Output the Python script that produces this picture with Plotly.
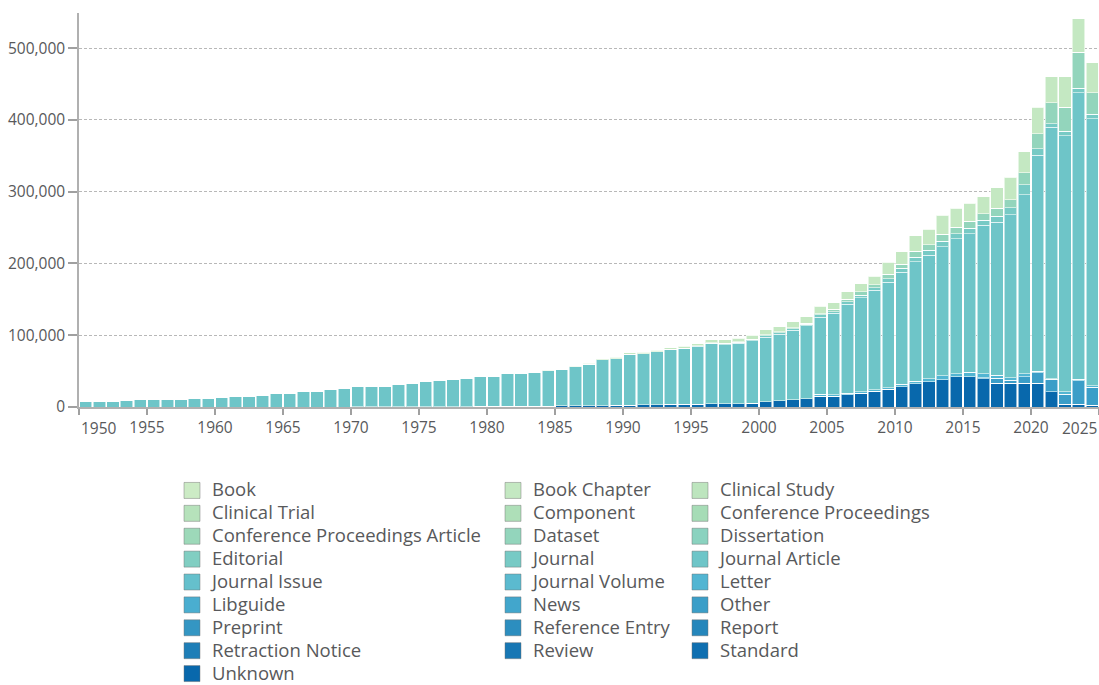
import plotly.graph_objects as go
from plotly.colors import sample_colorscale

# ---------------- data (values in thousands of records) ----------------
years = list(range(1950, 2025))

categories = [
    "Book", "Book Chapter", "Clinical Study", "Clinical Trial", "Component",
    "Conference Proceedings", "Conference Proceedings Article", "Dataset",
    "Dissertation", "Editorial", "Journal", "Journal Article", "Journal Issue",
    "Journal Volume", "Letter", "Libguide", "News", "Other", "Preprint",
    "Reference Entry", "Report", "Retraction Notice", "Review", "Standard",
    "Unknown",
]

journal_article = [
    7.5, 7.5, 8, 9.5, 9.8, 10.2, 10.7, 11, 12.3, 12.5,
    13.5, 14.5, 15.3, 15.5, 18.5, 19.5, 21, 22.3, 24, 25.6,
    27.4, 27.4, 28.3, 30.5, 32.5, 34.5, 35.9, 37.4, 39.3, 41.2,
    42.0, 45.0, 46.0, 46.3, 48.9, 51.0, 54.3, 57.7, 63.5, 65.0,
    71.3, 71.0, 73.6, 76.8, 78.3, 81.0, 83.4, 82.0, 84.4, 87.0,
    90.5, 93.1, 96.9, 101.4, 107.2, 113.3, 124.4, 131.0, 138.2, 147.0,
    156.0, 166.5, 172.3, 179.5, 188.2, 193.2, 206.5, 212.9, 227.5, 249.6,
    301.0, 350.5, 356.5, 399.5, 372.5,
]

unknown = [0] * 20 + [
    0.5, 0.5, 0.5, 0.5, 0.5, 0.5, 0.6, 0.6, 0.7, 0.8,
    1.0, 1.0, 1.0, 1.2, 1.3, 1.5, 1.5, 1.8, 2.0, 2.2,
    2.5, 3.0, 3.2, 3.5, 3.8, 4.0, 4.5, 4.5, 4.6, 5.0,
    7.0, 8.5, 10, 11.6, 15, 15, 17, 19.5, 22.3, 25,
    28.5, 32.5, 35, 38, 42, 42, 39.5, 33, 33, 33,
    33, 21, 3.5, 3.5, 2.5,
]

letter = [0] * 54 + [
    3, 2, 2, 2, 2, 2,
    3.5, 3.5, 4.5, 5.5, 4.5, 6, 6, 4.5, 3.5, 4,
    2, 1, 4, 2, 2,
]

other = [0] * 65 + [0.5, 1, 7, 4, 9, 15, 17.5, 14, 33, 25]

book_chapter = [0] * 33 + [
    0.5, 0.8,
    1.0, 1.2, 1.5, 1.5, 1.8, 2.0, 2.0, 2.2, 2.5, 2.5,
    2.4, 4.0, 5.0, 5.0, 5.6, 7.0, 7.0, 8.1, 8.8, 10.5,
    9.0, 10.2, 11.7, 11.7, 16.8, 16.8, 21.6, 21.6, 26.4, 26,
    25.2, 24, 28.8, 31.2, 29, 37, 36, 42, 47, 42,
]

dataset = [0] * 46 + [
    0.5, 0.7, 0.7, 0.8, 1.0, 1.0, 1.2, 1.2, 1.5,
    3.3, 3.7, 4.3, 4.3, 6.2, 6.2, 7.9, 7.9, 9.7, 9,
    9.2, 8.8, 10.6, 11.4, 17, 21, 29, 34, 50, 30,
]

journal = [0] * 45 + [
    0.6, 1.1, 1.3, 1.3, 1.6, 2.0, 2.0, 2.3, 2.5, 3.0,
    2.7, 3.1, 3.5, 3.5, 5.0, 5.0, 6.5, 6.5, 7.9, 7,
    7.6, 7.2, 8.6, 9.4, 14, 9, 5, 6, 6, 6,
]

series = {
    "Book Chapter": book_chapter,
    "Dataset": dataset,
    "Journal": journal,
    "Journal Article": journal_article,
    "Letter": letter,
    "Other": other,
    "Unknown": unknown,
}

tick_years = list(range(1950, 2026, 5))
y_ticks = [0, 100000, 200000, 300000, 400000, 500000]

# ---------------- styling ----------------
n = len(categories)
colors = sample_colorscale("GnBu", [0.25 + 0.625 * i / (n - 1) for i in range(n)])

FONT = "'Open Sans', Lato, sans-serif"
TEXT = "#58595b"
W, H = 1099, 685

fig = go.Figure()
legend_ids = ["legend", "legend2", "legend3"]

# stacked bars: last category at the bottom, first at the top
for i in reversed(range(n)):
    name = categories[i]
    vals = series.get(name, [0] * len(years))
    fig.add_trace(go.Bar(
        x=[y + 0.5 for y in years],
        y=[v * 1000 for v in vals],
        width=0.9,
        name=name,
        legendgroup=name,
        showlegend=False,
        marker=dict(color=colors[i], line=dict(color="rgba(255,255,255,0.55)", width=1)),
        hovertemplate="%{y:,}<extra>" + name + "</extra>",
    ))

# legend entries (larger square swatches with a soft grey outline)
for i in range(n):
    name = categories[i]
    fig.add_trace(go.Scatter(
        x=[None], y=[None], mode="markers",
        name="<span style='font-size:18.5px'>" + name + "</span>",
        legendgroup=name,
        marker=dict(symbol="square", size=16, color=colors[i],
                    line=dict(color="rgba(110,110,110,0.45)", width=1)),
        legend=legend_ids[i % 3],
        legendrank=i,
        hoverinfo="skip",
    ))

legend_common = dict(
    orientation="v", xref="container", yref="container",
    yanchor="top", xanchor="left", y=1 - 474 / H,
    bgcolor="rgba(0,0,0,0)", font=dict(family=FONT, size=15.3, color=TEXT),
    tracegroupgap=0, traceorder="normal", itemsizing="trace",
    itemclick=False, itemdoubleclick=False,
)

fig.update_layout(
    width=W, height=H,
    margin=dict(l=79, r=0, t=13, b=278, autoexpand=False),
    plot_bgcolor="white", paper_bgcolor="white",
    barmode="stack",
    font=dict(family=FONT, color=TEXT),
    legend=dict(legend_common, x=172 / W),
    legend2=dict(legend_common, x=493 / W),
    legend3=dict(legend_common, x=680 / W),
    xaxis=dict(
        range=[1950, 2025],
        tickvals=tick_years,
        ticktext=["" if t in (tick_years[0], tick_years[-1]) else str(t) for t in tick_years],
        ticks="outside", ticklen=6, tickwidth=1.5, tickcolor="#a0a0a0",
        showline=True, linecolor="#b0b0b0", linewidth=1.5,
        showgrid=False, zeroline=False,
        tickfont=dict(family=FONT, size=15.5, color=TEXT),
    ),
    yaxis=dict(
        range=[0, 549000],
        tickvals=y_ticks, tickformat=",",
        ticks="outside", ticklen=9, tickwidth=1.5, tickcolor="#a0a0a0",
        showline=True, linecolor="#b0b0b0", linewidth=1.5,
        showgrid=True, gridcolor="#b8b8b8", griddash="3px,2px", gridwidth=1,
        zeroline=False,
        tickfont=dict(family=FONT, size=15.5, color=TEXT),
    ),
)

# end-of-axis year labels kept inside the chart, like the original
for yr, anchor in ((tick_years[0], "left"), (tick_years[-1], "right")):
    fig.add_annotation(
        x=yr, y=0, xref="x", yref="paper", yanchor="top", xanchor=anchor,
        yshift=-8, text=str(yr), showarrow=False,
        font=dict(family=FONT, size=15.5, color=TEXT),
    )

fig.write_html(
    "out.html",
    config={"displayModeBar": False},
    post_script="document.body.style.margin='0';document.body.style.overflow='hidden';",
)
